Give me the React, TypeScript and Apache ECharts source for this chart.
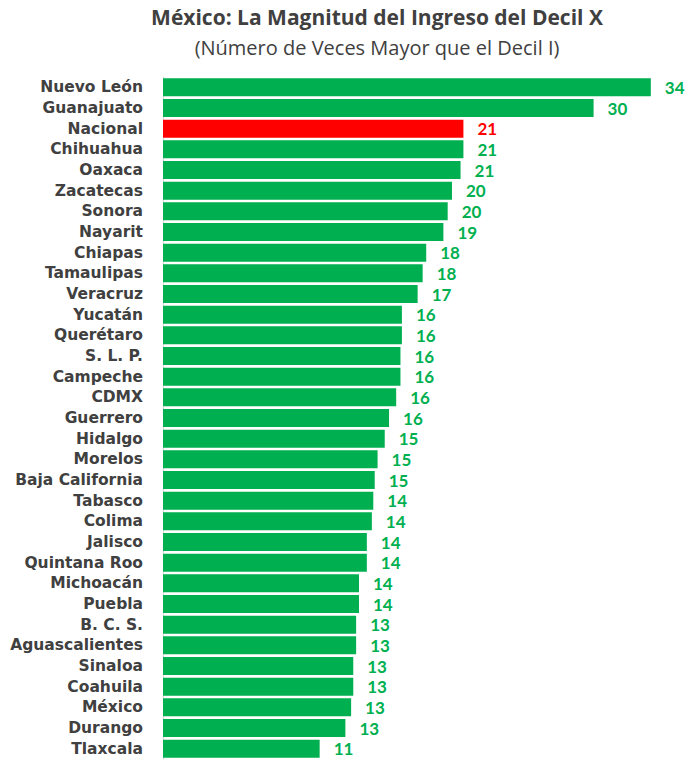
import React, { useEffect, useRef } from "react";
import * as echarts from "echarts";

const states = [
  "Nuevo León", "Guanajuato", "Nacional", "Chihuahua", "Oaxaca", "Zacatecas", "Sonora",
  "Nayarit", "Chiapas", "Tamaulipas", "Veracruz", "Yucatán", "Querétaro", "S. L. P.",
  "Campeche", "CDMX", "Guerrero", "Hidalgo", "Morelos", "Baja California", "Tabasco",
  "Colima", "Jalisco", "Quintana Roo", "Michoacán", "Puebla", "B. C. S.", "Aguascalientes",
  "Sinaloa", "Coahuila", "México", "Durango", "Tlaxcala",
];

const values = [
  34.1, 30.1, 21.0, 21.0, 20.8, 20.2, 19.9,
  19.6, 18.4, 18.15, 17.8, 16.7, 16.7, 16.6,
  16.6, 16.3, 15.8, 15.5, 15.0, 14.8, 14.7,
  14.6, 14.25, 14.25, 13.7, 13.7, 13.5, 13.5,
  13.3, 13.3, 13.15, 12.75, 10.95,
];

const shownLabels = [
  "34", "30", "21", "21", "21", "20", "20",
  "19", "18", "18", "17", "16", "16", "16",
  "16", "16", "16", "15", "15", "15", "14",
  "14", "14", "14", "14", "14", "13", "13",
  "13", "13", "13", "13", "11",
];

const highlighted = "Nacional";
const GREEN = "#00B050";
const RED = "#FF0000";
const TEXT = "#404040";

const titleText = "México: La Magnitud del Ingreso del Decil X";
const subtitleText = "(Número de Veces Mayor que el Decil I)";

export default function App() {
  const ref = useRef<HTMLDivElement>(null);
  useEffect(() => {
    const chart = echarts.init(ref.current!, null, { renderer: "svg" });
    const data = values.map((v, i) => {
      const c = states[i] === highlighted ? RED : GREEN;
      return {
        value: v,
        itemStyle: { color: c },
        label: { color: c },
      };
    });
    chart.setOption({
      animation: false,
      backgroundColor: "#ffffff",
      graphic: [
        {
          type: "text",
          x: 377,
          y: 6,
          style: {
            text: titleText,
            fill: TEXT,
            font: "bold 21px 'Open Sans'",
            textAlign: "center",
            textVerticalAlign: "top",
          },
        },
        {
          type: "text",
          x: 377,
          y: 37,
          style: {
            text: subtitleText,
            fill: TEXT,
            font: "20px 'Open Sans'",
            textAlign: "center",
            textVerticalAlign: "top",
          },
        },
      ],
      grid: { left: 163, right: 11, top: 77, height: 682, containLabel: false },
      xAxis: {
        type: "value",
        min: 0,
        max: 36,
        show: false,
        splitLine: { show: false },
      },
      yAxis: {
        type: "category",
        data: states,
        inverse: true,
        axisTick: { show: false },
        axisLine: { show: true, lineStyle: { color: "#D9D9D9", width: 1 } },
        axisLabel: {
          interval: 0,
          margin: 20,
          color: TEXT,
          fontFamily: "'DejaVu Sans'",
          fontWeight: "bold",
          fontSize: 15.5,
          lineHeight: 17,
        },
      },
      series: [
        {
          type: "bar",
          data,
          barWidth: 18,
          label: {
            show: true,
            position: "right",
            distance: 14,
            fontFamily: "Lato",
            fontWeight: "bold",
            fontSize: 17,
            lineHeight: 17,
            formatter: (p: any) => shownLabels[p.dataIndex],
          },
        },
      ],
    });
    return () => chart.dispose();
  }, []);
  return (
    <div
      ref={ref}
      style={{ position: "absolute", left: 0, top: 0, width: 689, height: 761 }}
    />
  );
}
